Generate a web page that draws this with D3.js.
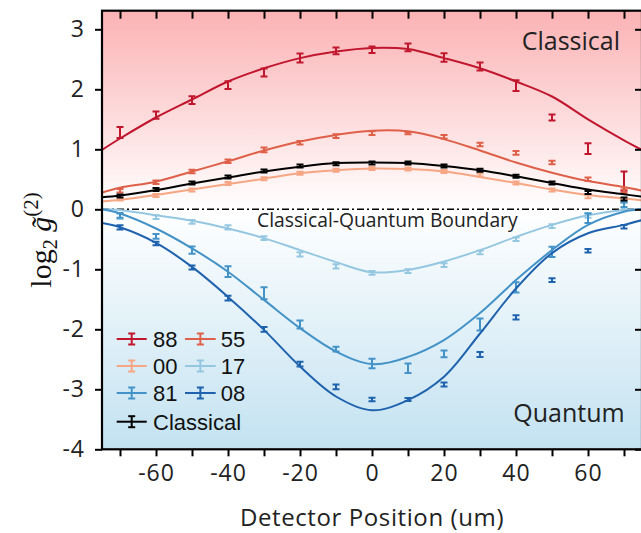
<!DOCTYPE html>
<html><head><meta charset="utf-8">
<script src="https://cdn.jsdelivr.net/npm/d3@7"></script>
<style>body{margin:0;background:#fff} svg{display:block}</style>
</head><body>
<svg id="chart" width="641" height="533"></svg>
<script>
// ---------- data ----------
const positions = [-70,-60,-50,-40,-30,-20,-10,0,10,20,30,40,50,60,70];
const fitX = [-75,-70,-60,-50,-40,-30,-20,-10,0,10,20,30,40,50,60,70,75];
const seriesNames = ["88","55","00","17","81","08","Classical"];
const seriesColors = ["#c0172e","#df6049","#f6a683","#95c7e1","#4493c8","#1f62ad","#000000"];

const pts88 = [1.28,1.57,1.82,2.07,2.28,2.52,2.64,2.66,2.70,2.53,2.38,2.06,1.53,1.01,0.47];
const err88 = [0.09,0.06,0.065,0.065,0.065,0.075,0.055,0.055,0.065,0.07,0.065,0.09,0.05,0.09,0.16];
const fit88 = [0.99,1.18,1.53,1.83,2.13,2.35,2.52,2.63,2.69,2.67,2.52,2.35,2.13,1.88,1.50,1.15,0.99];

const pts55 = [0.31,0.45,0.63,0.80,0.99,1.11,1.22,1.27,1.27,1.21,1.08,0.94,0.78,0.50,0.30];
const err55 = [0.03,0.03,0.03,0.03,0.04,0.03,0.03,0.03,0.02,0.03,0.03,0.03,0.03,0.03,0.03];
const fit55 = [0.28,0.36,0.46,0.63,0.80,0.98,1.13,1.24,1.31,1.30,1.17,0.98,0.78,0.61,0.47,0.37,0.31];

const pts00 = [0.17,0.23,0.32,0.43,0.51,0.60,0.65,0.68,0.67,0.63,0.57,0.44,0.32,0.21,0.13];
const err00 = [0.025,0.025,0.025,0.025,0.025,0.025,0.025,0.025,0.025,0.025,0.025,0.025,0.025,0.025,0.025];
const fit00 = [0.13,0.16,0.24,0.33,0.42,0.51,0.60,0.65,0.68,0.67,0.63,0.54,0.44,0.33,0.24,0.18,0.15];

const pts17 = [-0.12,-0.13,-0.21,-0.30,-0.48,-0.75,-0.95,-1.06,-1.03,-0.93,-0.72,-0.50,-0.28,-0.10,0.05];
const err17 = [0.04,0.03,0.03,0.035,0.03,0.035,0.035,0.03,0.03,0.03,0.03,0.03,0.03,0.04,0.05];
const fit17 = [0.00,-0.01,-0.10,-0.19,-0.32,-0.48,-0.68,-0.88,-1.05,-1.01,-0.87,-0.68,-0.46,-0.26,-0.10,-0.01,0.00];

const pts81 = [-0.10,-0.45,-0.68,-1.04,-1.40,-1.92,-2.33,-2.57,-2.65,-2.41,-1.92,-1.30,-0.71,-0.15,0.08];
const err81 = [0.04,0.04,0.06,0.09,0.10,0.065,0.04,0.08,0.08,0.055,0.10,0.085,0.085,0.08,0.04];
const fit81 = [0.00,-0.07,-0.32,-0.65,-1.04,-1.51,-1.98,-2.37,-2.58,-2.46,-2.18,-1.73,-1.18,-0.68,-0.26,-0.04,0.00];

const pts08 = [-0.30,-0.57,-0.97,-1.48,-2.00,-2.58,-2.96,-3.17,-3.17,-2.92,-2.42,-1.80,-1.18,-0.69,-0.29];
const err08 = [0.035,0.03,0.035,0.04,0.04,0.04,0.04,0.03,0.025,0.035,0.04,0.035,0.03,0.03,0.03];
const fit08 = [-0.23,-0.30,-0.56,-0.96,-1.46,-2.01,-2.62,-3.12,-3.35,-3.18,-2.79,-2.07,-1.32,-0.73,-0.40,-0.26,-0.18];

const ptsCl = [0.22,0.33,0.44,0.54,0.64,0.72,0.76,0.77,0.77,0.72,0.65,0.55,0.44,0.28,0.17];
const errCl = [0.025,0.025,0.025,0.025,0.025,0.025,0.025,0.025,0.025,0.025,0.025,0.025,0.025,0.025,0.025];
const fitCl = [0.20,0.23,0.32,0.43,0.53,0.63,0.71,0.77,0.78,0.77,0.72,0.65,0.55,0.44,0.33,0.25,0.21];

const seriesPoints = [pts88,pts55,pts00,pts17,pts81,pts08,ptsCl];
const seriesErrors = [err88,err55,err00,err17,err81,err08,errCl];
const seriesFits = [fit88,fit55,fit00,fit17,fit81,fit08,fitCl];

const yTickValues = [-4,-3,-2,-1,0,1,2,3];
const xTickValues = [-70,-60,-50,-40,-30,-20,-10,0,10,20,30,40,50,60,70];
const xLabelTicks = [-60,-40,-20,0,20,40,60];
const xDomain = [-75,75];
const yDomain = [-4,3.31];

// ---------- layout ----------
const svg = d3.select("#chart");
const L = 102, R = 642, T = 10.7, B = 449.3;
const x = d3.scaleLinear().domain(xDomain).range([L,R]);
const y = d3.scaleLinear().domain(yDomain).range([B,T]);
const sans = "'Open Sans', sans-serif";
const fmt = v => String(v);  // plain hyphen-minus as in the original

const defs = svg.append("defs");
const grad = defs.append("linearGradient").attr("id","bg")
  .attr("gradientUnits","userSpaceOnUse").attr("x1",0).attr("x2",0).attr("y1",T).attr("y2",B);
const zeroOff = (y(0)-T)/(B-T);
grad.append("stop").attr("offset",0).attr("stop-color","#fbb2b4");
grad.append("stop").attr("offset",zeroOff).attr("stop-color","#ffffff");
grad.append("stop").attr("offset",1).attr("stop-color","#c3e2f1");
defs.append("clipPath").attr("id","clip").append("rect")
  .attr("x",L).attr("y",T).attr("width",R-L).attr("height",B-T);

svg.append("rect").attr("x",L).attr("y",T).attr("width",R-L).attr("height",B-T).attr("fill","url(#bg)");

const plot = svg.append("g").attr("clip-path","url(#clip)");

plot.append("line").attr("x1",L).attr("x2",R).attr("y1",y(0)).attr("y2",y(0))
  .attr("stroke","#000").attr("stroke-width",1.4).attr("stroke-dasharray","7,3,2,3");

const line = d3.line().x(d=>x(d[0])).y(d=>y(d[1])).curve(d3.curveCatmullRom.alpha(0.5));

seriesNames.forEach((name,i)=>{
  const col = seriesColors[i];
  const g = plot.append("g");
  g.append("path").datum(fitX.map((v,j)=>[v,seriesFits[i][j]]))
    .attr("d",line).attr("fill","none").attr("stroke",col).attr("stroke-width",2);
  const pts = positions.map((v,j)=>({x:v,y:seriesPoints[i][j],e:seriesErrors[i][j]}));
  const eb = g.selectAll("g.eb").data(pts).enter().append("g").attr("class","eb")
    .attr("stroke",col).attr("stroke-width",2);
  eb.append("line").attr("x1",d=>x(d.x)).attr("x2",d=>x(d.x))
    .attr("y1",d=>y(d.y-d.e)).attr("y2",d=>y(d.y+d.e));
  eb.append("line").attr("x1",d=>x(d.x)-3.5).attr("x2",d=>x(d.x)+3.5)
    .attr("y1",d=>y(d.y+d.e)).attr("y2",d=>y(d.y+d.e));
  eb.append("line").attr("x1",d=>x(d.x)-3.5).attr("x2",d=>x(d.x)+3.5)
    .attr("y1",d=>y(d.y-d.e)).attr("y2",d=>y(d.y-d.e));
});

svg.append("text").attr("x",521.7).attr("y",50).attr("font-family",sans).attr("font-size",25)
  .attr("fill","#222").text("Classical");
svg.append("text").attr("x",513.3).attr("y",421.7).attr("font-family",sans).attr("font-size",25)
  .attr("fill","#222").text("Quantum");
svg.append("text").attr("x",257).attr("y",227.3).attr("font-family",sans).attr("font-size",19.3)
  .attr("fill","#222").text("Classical-Quantum Boundary");

const legRows = [339,339,366,366,393,393,421.7];
const legCols = [0,1,0,1,0,1,0];
const legLineX = [[116.7,146.7],[185,215.7]];
const legTextX = [153,220.7];
const leg = svg.append("g");
seriesNames.forEach((name,i)=>{
  const c = legCols[i], ry = legRows[i], col = seriesColors[i];
  const [a,b] = legLineX[c];
  const m = (a+b)/2;
  const g = leg.append("g").attr("stroke",col).attr("stroke-width",2);
  g.append("line").attr("x1",a).attr("x2",b).attr("y1",ry).attr("y2",ry);
  g.append("line").attr("x1",m).attr("x2",m).attr("y1",ry-5.5).attr("y2",ry+5.5);
  g.append("line").attr("x1",m-3.5).attr("x2",m+3.5).attr("y1",ry-5.5).attr("y2",ry-5.5);
  g.append("line").attr("x1",m-3.5).attr("x2",m+3.5).attr("y1",ry+5.5).attr("y2",ry+5.5);
  leg.append("text").attr("x",legTextX[c]).attr("y",ry).attr("dy","0.36em")
    .attr("font-family","'Liberation Sans', Arial, sans-serif").attr("font-size",22)
    .attr("fill","#111").text(name);
});

const axG = svg.append("g");
const axBottom = axG.append("g").attr("transform",`translate(0,${B})`)
  .call(d3.axisBottom(x).tickValues(xTickValues).tickSize(7).tickPadding(4)
    .tickFormat(v=> xLabelTicks.includes(v) ? fmt(v) : ""));
const axTop = axG.append("g").attr("transform",`translate(0,${T})`)
  .call(d3.axisBottom(x).tickValues(xTickValues).tickSize(8).tickFormat(""));
const axLeft = axG.append("g").attr("transform",`translate(${L},0)`)
  .call(d3.axisLeft(y).tickValues(yTickValues).tickSize(7).tickPadding(10).tickFormat(fmt));
const axRight = axG.append("g").attr("transform",`translate(${R},0)`)
  .call(d3.axisLeft(y).tickValues(yTickValues).tickSize(7).tickFormat(""));
[axBottom,axTop,axLeft,axRight].forEach(a=>{
  a.select(".domain").remove();
  a.selectAll(".tick line").attr("stroke","#000").attr("stroke-width",2);
  a.selectAll("text").attr("font-family",sans).attr("font-size",23)
    .attr("letter-spacing","1px").attr("fill","#222");
});
axBottom.selectAll("text").attr("dy","0.92em");

svg.append("rect").attr("x",L).attr("y",T).attr("width",R-L).attr("height",B-T)
  .attr("fill","none").attr("stroke","#000").attr("stroke-width",2.2);

svg.append("text").attr("x",372).attr("y",526).attr("text-anchor","middle")
  .attr("font-family",sans).attr("font-size",24).attr("letter-spacing","0.6px")
  .attr("fill","#222").text("Detector Position (um)");

const yl = svg.append("text").attr("transform","translate(51,240) rotate(-90)")
  .attr("text-anchor","middle").attr("font-family","'Liberation Serif', 'DejaVu Serif', serif")
  .attr("font-size",30).attr("fill","#111");
yl.append("tspan").text("log");
yl.append("tspan").attr("font-size",20).attr("dy",6).text("2");
yl.append("tspan").attr("dy",-6).text(" ");
yl.append("tspan").attr("font-style","italic").text("g\u0303");
yl.append("tspan").attr("font-size",21).attr("dy",-13).text("(2)");
</script>
</body></html>
